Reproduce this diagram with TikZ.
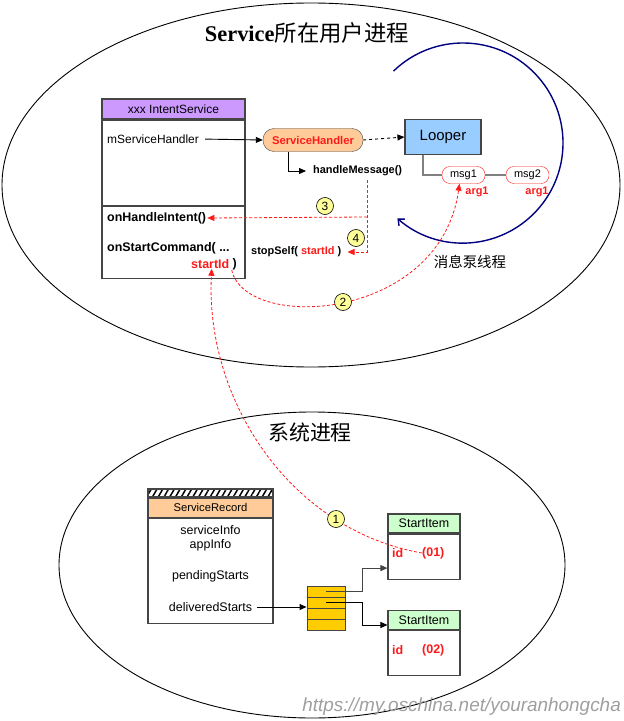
\documentclass[tikz,border=0pt]{standalone}
\usepackage{fontspec}
\setmainfont{Liberation Sans}
\newfontfamily\cjkfont{Noto Sans CJK SC}
\newfontfamily\serifbold{Liberation Serif}
\usepackage{tikz}
\usetikzlibrary{arrows.meta,positioning,patterns.meta}
\definecolor{procred}{HTML}{FF1A1A}
\definecolor{loopnavy}{HTML}{000080}
\definecolor{headpurple}{HTML}{CC99FF}
\definecolor{handlerorange}{HTML}{FFCC99}
\definecolor{looperblue}{HTML}{99CCFF}
\definecolor{itemgreen}{HTML}{CCFFCC}
\definecolor{queueyellow}{HTML}{FFCC00}
\definecolor{stepyellow}{HTML}{FFFF99}
\definecolor{boxgray}{HTML}{454545}
\tikzset{
  procellipse/.style={black,line width=0.9bp},
  classhead/.style={draw=boxgray,line width=1.1bp,inner sep=0pt,font=\fontsize{12}{14}\selectfont},
  classbody/.style={draw=boxgray,line width=1.1bp,fill=white,inner sep=0pt},
  fieldtext/.style={anchor=west,inner sep=0pt,font=\fontsize{12}{14}\selectfont},
  methodtext/.style={anchor=west,inner sep=0pt,font=\bfseries\fontsize{12.5}{14}\selectfont},
  recordtext/.style={inner sep=0pt,font=\fontsize{12.5}{14}\selectfont},
  idtext/.style={anchor=west,inner sep=0pt,procred,font=\bfseries\fontsize{12.5}{14}\selectfont},
  calllink/.style={-{Triangle[length=7bp,width=6bp]},line width=0.9bp},
  redlink/.style={-{Triangle[length=7bp,width=6bp]},procred,dashed,dash pattern=on 3bp off 2bp,line width=0.8bp},
  msgpill/.style={draw=procred,fill=white,rounded corners=8bp,minimum width=43bp,minimum height=17bp,inner sep=0pt,font=\fontsize{11}{13}\selectfont},
  argtext/.style={procred,inner sep=0pt,font=\bfseries\fontsize{11}{13}\selectfont},
  queuecell/.style={draw=boxgray,fill=queueyellow,minimum width=38bp,minimum height=11bp,inner sep=0pt,line width=0.9bp},
  stepmark/.style={circle,draw=black,fill=stepyellow,minimum size=17bp,inner sep=0pt,line width=0.6bp,font=\fontsize{12}{14}\selectfont}
}
\begin{document}
\begin{tikzpicture}[x=1bp,y=-1bp]
\useasboundingbox (0,0) rectangle (624,721);
% the two processes
\draw[procellipse] (311,185) ellipse [x radius=309,y radius=182];
\draw[procellipse] (312,565) ellipse [x radius=253,y radius=153];
\node[font=\fontsize{22.5}{26}\selectfont] (usertitle) at (307,33) {{\serifbold\bfseries Service}\cjkfont 所在用户进程};
\node[font=\cjkfont\fontsize{21}{24}\selectfont] (systitle) at (310,432) {系统进程};
% IntentService
\node[classhead,fill=headpurple,minimum width=143bp,minimum height=20bp] (svchead) at (173.5,109) {xxx IntentService};
\node[classbody,minimum width=143bp,minimum height=158bp,below=0pt of svchead] (svcbody) {};
\coordinate (svcsep) at (0,206);
\draw[boxgray,line width=1.1bp] (svcbody.west |- svcsep) -- (svcbody.east |- svcsep);
\node[fieldtext] (handlerfield) at (107,139) {mServiceHandler};
\node[methodtext] (onhandle) at (107,218) {onHandleIntent()};
\node[methodtext] (onstart) at (107,248) {onStartCommand( ...};
\node[methodtext,procred] (startid) at (191,264) {startId};
\node[methodtext,right=3bp of startid] (startclose) {)};
% handler and looper
\node[draw=boxgray,fill=handlerorange,rounded corners=11bp,minimum width=100bp,minimum height=23bp,inner sep=0pt,text=procred,font=\bfseries\fontsize{11.3}{13}\selectfont] (handler) at (313,140) {ServiceHandler};
\node[draw=boxgray,fill=looperblue,minimum width=76bp,minimum height=35bp,line width=1.1bp,font=\fontsize{15}{17}\selectfont] (looper) at (443,137) {Looper};
\node[inner sep=0pt,anchor=west,font=\bfseries\fontsize{11}{13}\selectfont] (handlemsg) at (313,171) {handleMessage()};
\draw[calllink,shorten <=6bp] (handlerfield.east) -- (handler.west);
\draw[calllink,dashed] (handler.east) -- (looper.west);
\draw[calllink] ([xshift=-25bp]handler.south) |- ([xshift=-7bp]handlemsg.west);
% message queue
\node[msgpill] (msgone) at (463.5,175) {msg1};
\node[msgpill] (msgtwo) at (527.5,175) {msg2};
\draw[gray,line width=1.5bp] ([xshift=-20bp]looper.south) |- (msgone.west);
\draw[gray,line width=1.5bp] (msgone) -- (msgtwo);
\node[argtext] (argone) at (477,192) {arg1};
\node[argtext] (argtwo) at (537,192) {arg1};
\coordinate (loopcenter) at (463,143);
\draw[loopnavy,line width=1.4bp,-{Straight Barb[length=5bp,width=9bp]}] ([shift={(-134:100)}]loopcenter) arc[start angle=-134,end angle=131,radius=100];
\node[font=\cjkfont\fontsize{14.5}{17}\selectfont] (pumplabel) at (470,262) {消息泵线程};
% replies to the service
\node[inner sep=0pt,anchor=west,font=\bfseries\fontsize{11}{13}\selectfont] (stopself) at (251,252) {stopSelf( \textcolor{procred}{startId} )};
\coordinate (dispatch) at (367,180);
\coordinate (dispatchmid) at (367,217);
\draw[redlink] (dispatch) |- ([xshift=6bp]stopself.east);
\draw[redlink] (dispatchmid) -- ([xshift=1bp]onhandle.east);
\draw[redlink] ([xshift=-3bp]startclose.south) .. controls (245,332) and (440,322) .. ([xshift=-4bp]msgone.south);
% ServiceRecord
\node[draw=boxgray,line width=1.1bp,pattern={Lines[angle=60,distance=5bp,line width=1.5bp]},minimum width=125bp,minimum height=8bp,inner sep=0pt] (recordhatch) at (210.5,493) {};
\node[classhead,fill=handlerorange,minimum width=125bp,minimum height=19bp,below=0pt of recordhatch,font=\fontsize{11.3}{13}\selectfont] (recordhead) {ServiceRecord};
\node[classbody,minimum width=125bp,minimum height=105bp,below=0pt of recordhead] (recordbody) {};
\node[recordtext] (serviceinfo) at (210.5,530) {serviceInfo};
\node[recordtext] (appinfo) at (210.5,545) {appInfo};
\node[recordtext] (pending) at (210.5,576) {pendingStarts};
\node[recordtext] (delivered) at (210.5,607) {deliveredStarts};
\foreach \k in {1,...,4}{\node[queuecell] (cell\k) at (326,580.5+11*\k) {};}
\draw[calllink] ([xshift=5bp]delivered.east) -- (delivered.east -| cell1.west);
% StartItems
\node[classhead,fill=itemgreen,minimum width=72bp,minimum height=19bp,font=\fontsize{12.5}{14}\selectfont] (itemonehead) at (424,523.5) {StartItem};
\node[classbody,minimum width=72bp,minimum height=45bp,below=0pt of itemonehead] (itemonebody) {};
\node[classhead,fill=itemgreen,minimum width=72bp,minimum height=19bp,font=\fontsize{12.5}{14}\selectfont] (itemtwohead) at (424,620) {StartItem};
\node[classbody,minimum width=72bp,minimum height=45bp,below=0pt of itemtwohead] (itemtwobody) {};
\node[idtext] (idone) at (392,553) {id};
\node[idtext] (idoneval) at (422,553) {(01)};
\node[idtext] (idtwo) at (392,650) {id};
\node[idtext] (idtwoval) at (422,650) {(02)};
\draw[calllink,boxgray] (cell1.center) -- ++(36.5,0) |- ([yshift=-11.5bp]itemonebody.west);
\draw[calllink] (cell2.center) -- ++(36.5,0) |- ([yshift=-5bp]itemtwohead.west);
\draw[redlink] (idoneval.west) .. controls (290,530) and (205,400) .. ([xshift=1.5bp]startid.south);
% step numbers
\node[stepmark] (stepone) at (336,519) {1};
\node[stepmark] (steptwo) at (343,302) {2};
\node[stepmark] (stepthree) at (325,206) {3};
\node[stepmark] (stepfour) at (356,238) {4};
\node[text=gray!75,anchor=east,inner sep=0pt,font=\itshape\fontsize{19}{21}\selectfont] (watermark) at (621,707) {https://my.oschina.net/youranhongcha};
\end{tikzpicture}
\end{document}
